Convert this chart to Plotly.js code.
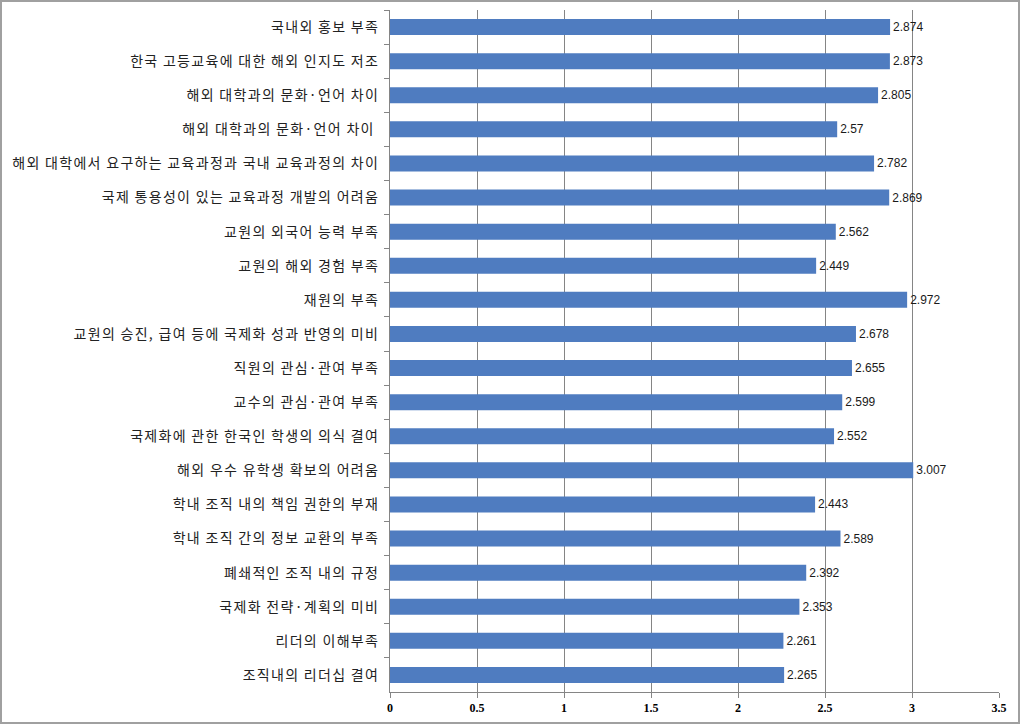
<!DOCTYPE html>
<html><head><meta charset="utf-8">
<script src="https://cdn.plot.ly/plotly-3.0.1.min.js"></script>
<style>
html,body{margin:0;padding:0;background:#fff;}
#frame{position:absolute;left:0;top:0;width:1016px;height:720px;border:2px solid #a0a0a0;}
#chart{position:absolute;left:0;top:0;width:1023px;height:728px;}
.ytick text{letter-spacing:1.3px;}
</style></head>
<body>
<div id="chart"></div>
<div id="frame"></div>
<script>
const categories = [
  "국내외 홍보 부족",
  "한국 고등교육에 대한 해외 인지도 저조",
  "해외 대학과의 문화·언어 차이",
  "해외 대학과의 문화·언어 차이 ",
  "해외 대학에서 요구하는 교육과정과 국내 교육과정의 차이",
  "국제 통용성이 있는 교육과정 개발의 어려움",
  "교원의 외국어 능력 부족",
  "교원의 해외 경험 부족",
  "재원의 부족",
  "교원의 승진, 급여 등에 국제화 성과 반영의 미비",
  "직원의 관심·관여 부족",
  "교수의 관심·관여 부족",
  "국제화에 관한 한국인 학생의 의식 결여",
  "해외 우수 유학생 확보의 어려움",
  "학내 조직 내의 책임 권한의 부재",
  "학내 조직 간의 정보 교환의 부족",
  "폐쇄적인 조직 내의 규정",
  "국제화 전략·계획의 미비",
  "리더의 이해부족",
  "조직내의 리더십 결여"
];
const values = [2.874, 2.873, 2.805, 2.57, 2.782, 2.869, 2.562, 2.449, 2.972, 2.678,
                2.655, 2.599, 2.552, 3.007, 2.443, 2.589, 2.392, 2.353, 2.261, 2.265];
const valueLabels = ["2.874","2.873","2.805","2.57","2.782","2.869","2.562","2.449","2.972","2.678",
                     "2.655","2.599","2.552","3.007","2.443","2.589","2.392","2.353","2.261","2.265"];
const xTicks = [0, 0.5, 1, 1.5, 2, 2.5, 3, 3.5];

const trace = {
  type: 'bar',
  orientation: 'h',
  x: values,
  y: categories,
  text: valueLabels,
  textposition: 'outside',
  cliponaxis: false,
  textfont: {family: 'Liberation Sans, Arial, sans-serif', size: 12, color: '#1a1a1a'},
  marker: {color: '#4f7cc0'},
  hoverinfo: 'x+y'
};

const layout = {
  width: 1023, height: 728,
  margin: {l: 390, r: 24, t: 10, b: 36, pad: 0},
  paper_bgcolor: '#fff', plot_bgcolor: '#fff',
  showlegend: false,
  bargap: 0.53,
  xaxis: {
    range: [0, 3.5],
    tickvals: xTicks,
    ticktext: xTicks.map(String),
    showgrid: true, gridcolor: '#858585', gridwidth: 1,
    zeroline: false,
    showline: true, linecolor: '#858585', linewidth: 1,
    ticks: 'outside', ticklen: 5, tickcolor: '#858585',
    tickfont: {family: 'Liberation Serif, Times New Roman, serif', size: 12, color: '#000', weight: 'bold'},
    fixedrange: true
  },
  yaxis: {
    type: 'category',
    autorange: 'reversed',
    showgrid: false,
    showline: true, linecolor: '#858585', linewidth: 1,
    ticks: 'outside', ticklen: 5, tickcolor: '#858585',
    tickson: 'boundaries',
    ticklabelstandoff: 7,
    tickfont: {family: 'Noto Sans CJK KR, sans-serif', size: 14, color: '#222'},
    fixedrange: true
  }
};

Plotly.newPlot('chart', [trace], layout, {displayModeBar: false, staticPlot: true});
</script>
</body></html>
